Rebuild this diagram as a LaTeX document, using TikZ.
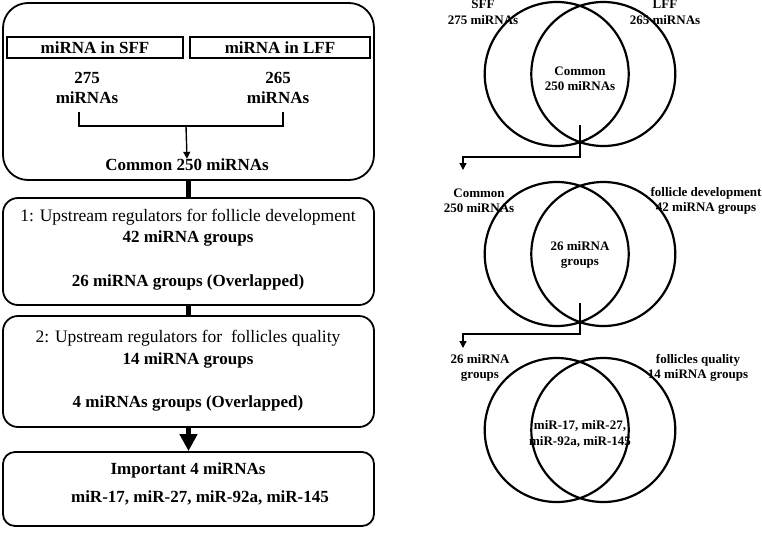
\documentclass[tikz,border=0pt]{standalone}
\usepackage{fontspec}
\setmainfont{Liberation Serif}
\usetikzlibrary{arrows.meta}

\begin{document}
\begin{tikzpicture}[x=1pt,y=-1pt,
    flowbox/.style={draw, line width=1.8pt, minimum width=371pt, inner sep=0pt},
    tagbox/.style={draw, line width=1.8pt, minimum height=21pt, inner sep=0pt, font=\fontsize{17}{20}\selectfont\bfseries},
    flowtext/.style={font=\fontsize{17.5}{20}\selectfont, align=center, inner sep=0pt},
    boldtext/.style={font=\fontsize{17}{20}\selectfont\bfseries, align=center, inner sep=0pt},
    venn/.style={draw, circle, line width=2.2pt, minimum size=144pt, inner sep=0pt},
    venntext/.style={font=\fontsize{13}{15.5}\selectfont\bfseries, align=center, inner sep=0pt},
    link/.style={line width=1.4pt, -{Triangle[length=7pt,width=7pt]}},
    pipe/.style={line width=5pt}]

        \useasboundingbox (0,0) rectangle (762,536);

        %Box 1
        \node [flowbox, rounded corners=25pt, minimum height=177pt] (boxA) at (188.5,91.5) {};
        \node [tagbox, minimum width=176pt] (sffTag) at (95,47.5) {miRNA in SFF};
        \node [tagbox, minimum width=180pt] (lffTag) at (280,47.5) {miRNA in LFF};
        \node [boldtext] (sffNum) at (87,88) {275\\miRNAs};
        \node [boldtext] (lffNum) at (278,88) {265\\miRNAs};
        \node [boldtext] (commonA) at (187,165) {Common 250 miRNAs};
        \coordinate (brL) at (79,112);
        \coordinate (brR) at (283,112);
        \coordinate (brM) at (186,126);
        \draw [line width=1.3pt] (brL) -- ++(0,14) -| (brR);
        \draw [link] (brM) -- (commonA.north);

        %Box 2
        \node [flowbox, rounded corners=15pt, minimum height=107pt] (boxB) at (188.5,251.5) {};
        \node [flowtext] (devA) at (188,217) {1: Upstream regulators for follicle development};
        \node [boldtext] (devB) at (188,238) {42 miRNA groups};
        \node [boldtext] (devC) at (188,282) {26 miRNA groups (Overlapped)};

        %Box 3
        \node [flowbox, rounded corners=15pt, minimum height=111pt] (boxC) at (188.5,371.5) {};
        \node [flowtext] (qualA) at (188,338) {2: Upstream regulators for \ follicles quality};
        \node [boldtext] (qualB) at (188,360) {14 miRNA groups};
        \node [boldtext] (qualC) at (188,403) {4 miRNAs groups (Overlapped)};

        %Box 4
        \node [flowbox, rounded corners=12pt, minimum height=74pt] (boxD) at (188.5,489) {};
        \node [boldtext] (impA) at (188,470) {Important 4 miRNAs};
        \node [boldtext] (impB) at (200,498) {miR-17, miR-27, miR-92a, miR-145};

        %Pipes
        \draw [pipe] (boxA.south) -- (boxB.north);
        \draw [pipe] (boxB.south) -- (boxC.north);
        \draw [pipe, -{Triangle[length=17pt,width=17pt]}] (boxC.south) -- (boxD.north);

        %Venn 1
        \node [venn] (sffC) at (556.7,74) {};
        \node [venn] (lffC) at (603.3,74) {};
        \node [venntext] (sffL) at (483,12.5) {SFF\\275 miRNAs};
        \node [venntext] (lffL) at (665,12.5) {LFF\\265 miRNAs};
        \node [venntext] (commonL) at (580,79) {Common\\250 miRNAs};
        \coordinate (outA) at (580,125);
        \coordinate (inB) at (463,170);
        \draw [link] (outA) -- ++(0,32) -| (inB);

        %Venn 2
        \node [venn] (comC) at (556.7,254) {};
        \node [venn] (devCirc) at (603.3,254) {};
        \node [venntext] (comL) at (479,201) {Common\\250 miRNAs};
        \node [venntext] (devL) at (706,201) {follicle development\\42 miRNA groups};
        \node [venntext] (groupL) at (580,255) {26 miRNA\\groups};
        \coordinate (outB) at (580,303);
        \coordinate (inC) at (463,348);
        \draw [link] (outB) -- ++(0,31) -| (inC);

        %Venn 3
        \node [venn] (grpC) at (556.7,430) {};
        \node [venn] (qualCirc) at (603.3,430) {};
        \node [venntext] (grpL) at (480,368) {26 miRNA\\groups};
        \node [venntext] (qualL) at (698,368) {follicles quality\\14 miRNA groups};
        \node [venntext] (mirL) at (580,434) {miR-17, miR-27,\\miR-92a, miR-145};

\end{tikzpicture}
\end{document}
